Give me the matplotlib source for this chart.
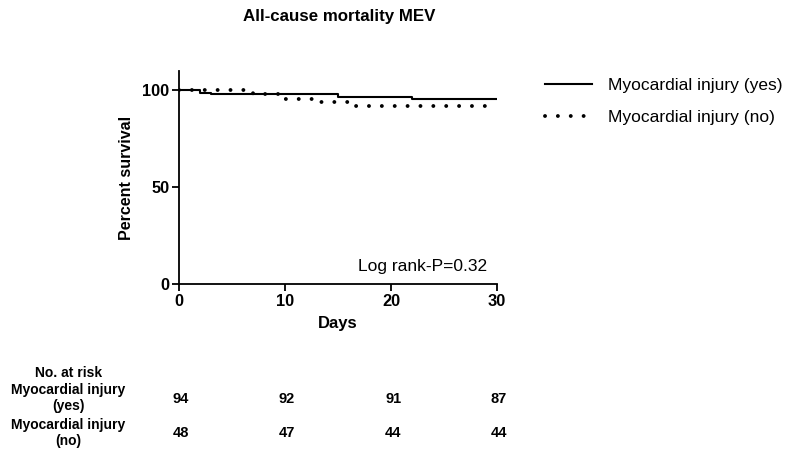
import matplotlib
matplotlib.use("Agg")
import matplotlib.pyplot as plt

plt.rcParams.update({
    "font.family": ["Liberation Sans", "DejaVu Sans"],
    "text.color": "black",
    "axes.edgecolor": "black",
})

# survival steps (day, percent)
YES_DAYS = [0, 2, 3, 15, 22, 30]
YES_SURV = [100, 98.9, 97.9, 96.8, 95.7, 95.7]
NO_DAYS = [0, 7, 10, 13, 16, 30]
NO_SURV = [100, 97.9, 95.8, 93.75, 91.7, 91.7]

RISK_DAYS = [0, 10, 20, 30]
RISK_YES = [94, 92, 91, 87]
RISK_NO = [48, 47, 44, 44]

fig = plt.figure(figsize=(7.86, 4.62), dpi=100)
ax = fig.add_axes([0.2277, 0.3853, 0.4046, 0.461])

ax.step(YES_DAYS, YES_SURV, where="post", color="black", lw=1.5,
        label="Myocardial injury (yes)")
ax.step(NO_DAYS, NO_SURV, where="post", color="black", lw=2.8,
        linestyle=(0, (0.01, 3.3)), dash_capstyle="round",
        label="Myocardial injury (no)")

ax.set_xlim(0, 30)
ax.set_ylim(0, 110)
ax.set_xticks([0, 10, 20, 30])
ax.set_yticks([0, 50, 100])
for s in ("top", "right"):
    ax.spines[s].set_visible(False)
for s in ("left", "bottom"):
    ax.spines[s].set_linewidth(1.3)
ax.tick_params(direction="out", length=5, width=1.3, labelsize=11.8, pad=2)
for lab in ax.get_xticklabels() + ax.get_yticklabels():
    lab.set_fontweight("bold")
ax.set_xlabel("Days", fontsize=12, fontweight="bold", labelpad=5)
ax.set_ylabel("Percent survival", fontsize=11.5, fontweight="bold", labelpad=6)
ax.text(29.1, 6.5, "Log rank-P=0.32", ha="right", va="baseline", fontsize=12.5)

fig.text(0.431, 1 - 17 / 462, "All-cause mortality MEV", ha="center",
         va="center", fontsize=12.2, fontweight="bold")

ax.legend(loc="upper left", bbox_to_anchor=(1.103, 1.04), frameon=False,
          fontsize=12.5, handlelength=2.7, handletextpad=0.9, labelspacing=0.95)

# number at risk table
trans = ax.get_xaxis_transform()
fig.text(0.087, 1 - 373 / 462, "No. at risk", ha="center", va="center",
         fontsize=10, fontweight="bold")
fig.text(0.087, 1 - 398 / 462, "Myocardial injury\n(yes)", ha="center",
         va="center", fontsize=10, fontweight="bold", linespacing=1.25)
fig.text(0.087, 1 - 433 / 462, "Myocardial injury\n(no)", ha="center",
         va="center", fontsize=10, fontweight="bold", linespacing=1.25)
y_yes = ax.transAxes.inverted().transform(fig.transFigure.transform((0, 1 - 399 / 462)))[1]
y_no = ax.transAxes.inverted().transform(fig.transFigure.transform((0, 1 - 433 / 462)))[1]
for d, a, b in zip(RISK_DAYS, RISK_YES, RISK_NO):
    ax.text(d + 0.2, y_yes, str(a), transform=trans, ha="center", va="center",
            fontsize=10.5, fontweight="bold", clip_on=False)
    ax.text(d + 0.2, y_no, str(b), transform=trans, ha="center", va="center",
            fontsize=10.5, fontweight="bold", clip_on=False)

fig.savefig("out.png", dpi=100)
